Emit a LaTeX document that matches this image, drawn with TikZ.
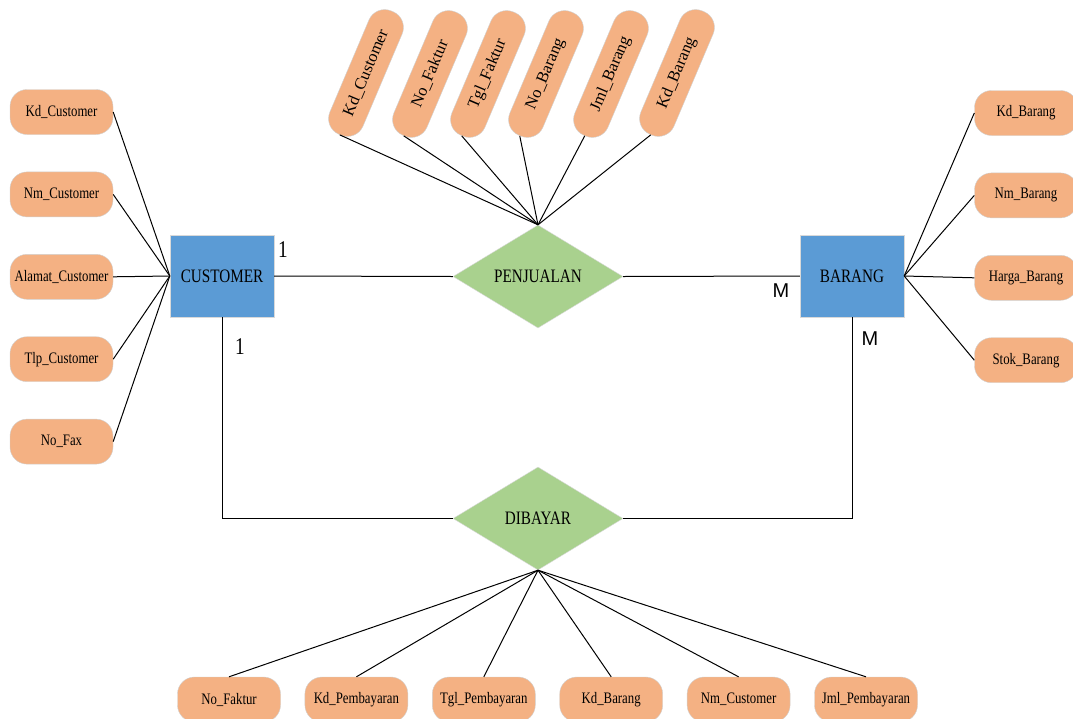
\documentclass[tikz,border=0pt]{standalone}
\usepackage{fontspec}
\setmainfont[FakeStretch=0.8]{Liberation Serif}
\newfontfamily\plainserif{Liberation Serif}
\newfontfamily\cardfont{Liberation Sans}
\usepackage{xcolor}
\usepackage{tikz}
\usetikzlibrary{shapes.geometric,positioning}

\definecolor{attrorange}{HTML}{F4B183}
\definecolor{entblue}{HTML}{5B9BD5}
\definecolor{relgreen}{HTML}{A9D18E}

\begin{document}
\begin{tikzpicture}[x=1pt,y=-1pt,
    node distance=37pt,
    attr/.style={draw=black!18,fill=attrorange,rounded corners=17pt,
        minimum width=103pt,minimum height=45pt,inner sep=1pt,
        font=\fontsize{16}{18}\selectfont},
    vattr/.style={attr,rotate=67,minimum width=134pt,minimum height=36pt,
        font=\plainserif\fontsize{16.5}{18}\selectfont},
    entity/.style={draw=black!15,fill=entblue,minimum width=104pt,
        minimum height=82pt,font=\fontsize{19}{21}\selectfont},
    relation/.style={diamond,draw=black!15,fill=relgreen,minimum width=170pt,
        minimum height=103pt,inner sep=0pt,font=\fontsize{19}{21}\selectfont},
    one/.style={font=\fontsize{24}{26}\selectfont},
    many/.style={font=\cardfont\fontsize{20}{22}\selectfont},
    link/.style={line width=1pt,draw=black}
]
\useasboundingbox (0,0) rectangle (1073,718);

% entities and relations
\node[entity] (customer) at (222,276) {CUSTOMER};
\node[entity] (barang) at (852,276) {BARANG};
\node[relation] (penjualan) at (538,276.5) {PENJUALAN};
\node[relation] (dibayar) at (538,518.5) {DIBAYAR};

% customer attributes
\node[attr] (kdcustomer) at (61.5,112) {Kd\_Customer};
\node[attr,below=of kdcustomer] (nmcustomer) {Nm\_Customer};
\node[attr,below=of nmcustomer] (alamatcustomer) {Alamat\_Customer};
\node[attr,below=of alamatcustomer] (tlpcustomer) {Tlp\_Customer};
\node[attr,below=of tlpcustomer] (nofax) {No\_Fax};

% barang attributes
\node[attr] (kdbarang) at (1026,113) {Kd\_Barang};
\node[attr,below=of kdbarang] (nmbarang) {Nm\_Barang};
\node[attr,below=of nmbarang] (hargabarang) {Harga\_Barang};
\node[attr,below=of hargabarang] (stokbarang) {Stok\_Barang};

% penjualan attributes
\node[vattr] (jkdcustomer) at (366,73) {Kd\_Customer};
\node[vattr] (jnofaktur) at (430,74) {No\_Faktur};
\node[vattr] (jtglfaktur) at (488,74) {Tgl\_Faktur};
\node[vattr] (jnobarang) at (546,74) {No\_Barang};
\node[vattr] (jjmlbarang) at (611,74) {Jml\_Barang};
\node[vattr] (jkdbarang) at (677,73) {Kd\_Barang};

% dibayar attributes
\node[attr] (bnofaktur) at (229,699.5) {No\_Faktur};
\node[attr,right=24pt of bnofaktur] (bkdbayar) {Kd\_Pembayaran};
\node[attr,right=24pt of bkdbayar] (btglbayar) {Tgl\_Pembayaran};
\node[attr,right=24pt of btglbayar] (bkdbarang) {Kd\_Barang};
\node[attr,right=24pt of bkdbarang] (bnmcustomer) {Nm\_Customer};
\node[attr,right=24pt of bnmcustomer] (bjmlbayar) {Jml\_Pembayaran};

% cardinalities
\node[one] (c1) at (283,250) {1};
\node[one] (c2) at (240,347) {1};
\node[many] (m1) at (781,291) {M};
\node[many] (m2) at (870,339) {M};

\draw[link] (kdcustomer.east) -- (customer.west);
\draw[link] (nmcustomer.east) -- (customer.west);
\draw[link] (alamatcustomer.east) -- (customer.west);
\draw[link] (tlpcustomer.east) -- (customer.west);
\draw[link] (nofax.east) -- (customer.west);

\draw[link] (kdbarang.west) -- (barang.east);
\draw[link] (nmbarang.west) -- (barang.east);
\draw[link] (hargabarang.west) -- (barang.east);
\draw[link] (stokbarang.west) -- (barang.east);

\draw[link] (jkdcustomer.west) -- (penjualan.north);
\draw[link] (jnofaktur.west) -- (penjualan.north);
\draw[link] (jtglfaktur.west) -- (penjualan.north);
\draw[link] (jnobarang.west) -- (penjualan.north);
\draw[link] (jjmlbarang.west) -- (penjualan.north);
\draw[link] (jkdbarang.west) -- (penjualan.north);

\draw[link] (dibayar.south) -- (bnofaktur.north);
\draw[link] (dibayar.south) -- (bkdbayar.north);
\draw[link] (dibayar.south) -- (btglbayar.north);
\draw[link] (dibayar.south) -- (bkdbarang.north);
\draw[link] (dibayar.south) -- (bnmcustomer.north);
\draw[link] (dibayar.south) -- (bjmlbayar.north);

\draw[link] (customer.east) -- (penjualan.west);
\draw[link] (penjualan.east) -- (barang.west);
\draw[link] (customer.south) |- (dibayar.west);
\draw[link] (barang.south) |- (dibayar.east);
\end{tikzpicture}
\end{document}
